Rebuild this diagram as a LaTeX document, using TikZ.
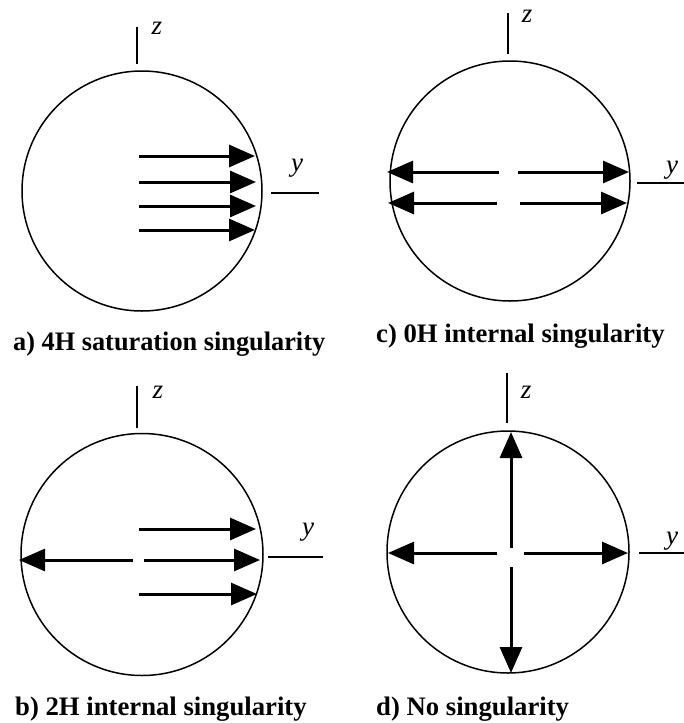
\documentclass[tikz,border=0pt]{standalone}
\usepackage{fontspec}
\setmainfont{Liberation Serif}
\usetikzlibrary{arrows.meta}
\begin{document}
\begin{tikzpicture}[x=1pt,y=-1pt,
  circ/.style={line width=1.5pt},
  axtick/.style={line width=1.6pt},
  vec/.style={line width=3pt,-{Triangle[length=26pt,width=22pt]}},
  axlbl/.style={font=\fontsize{27}{27}\selectfont\itshape, inner sep=0pt},
  sublbl/.style={font=\fontsize{26.7}{27}\selectfont\bfseries, inner sep=0pt, anchor=base west}
]
\useasboundingbox (0,0) rectangle (684,723);

% ---------- a) ----------
\draw[circ] (142,191) circle[radius=120pt];
\draw[axtick] (137,27) -- (137,64);
\draw[axtick] (271,193) -- (319,193);
\node[axlbl] (za) at (157,28) {z};
\node[axlbl] (ya) at (297,168) {y};
\draw[vec] (139,156) -- (255,156);
\draw[vec] (139,182) -- (256,182);
\draw[vec] (139,206) -- (256,206);
\draw[vec] (139,230) -- (255,230);
\node[sublbl] (la) at (13,350) {\scalebox{0.985}[1]{a) 4H saturation singularity}};

% ---------- c) ----------
\draw[circ] (510,181) circle[radius=120pt];
\draw[axtick] (508,13) -- (508,54);
\draw[axtick] (637,183) -- (684,183);
\node[axlbl] (zc) at (527,16) {z};
\node[axlbl] (yc) at (672,170) {y};
\draw[vec] (499,172) -- (387,172);
\draw[vec] (497,203) -- (388,203);
\draw[vec] (518,172) -- (629,172);
\draw[vec] (520,203) -- (627,203);
\node[sublbl] (lc) at (376,342) {c) 0H internal singularity};

% ---------- b) ----------
\draw[circ] (142,554.5) circle[radius=121pt];
\draw[axtick] (137,386) -- (137,428);
\draw[axtick] (268,557) -- (323,557);
\node[axlbl] (zb) at (158,392) {z};
\node[axlbl] (yb) at (308,532) {y};
\draw[vec] (139,529) -- (256,529);
\draw[vec] (133,560) -- (19,560);
\draw[vec] (144,560) -- (260,560);
\draw[vec] (139,594) -- (257,594);
\node[sublbl] (lb) at (15,715) {b) 2H internal singularity};

% ---------- d) ----------
\draw[circ] (508,552) circle[radius=121pt];
\draw[axtick] (507,373) -- (507,423);
\draw[axtick] (639,553) -- (684,553);
\node[axlbl] (zd) at (526,392) {z};
\node[axlbl] (yd) at (672,541) {y};
\draw[vec] (497,553) -- (388,553);
\draw[vec] (524,553) -- (628,553);
\draw[vec] (511,548) -- (511,432);
\draw[vec] (511,567) -- (511,673);
\node[sublbl] (ld) at (376,715) {d) No singularity};
\end{tikzpicture}
\end{document}
